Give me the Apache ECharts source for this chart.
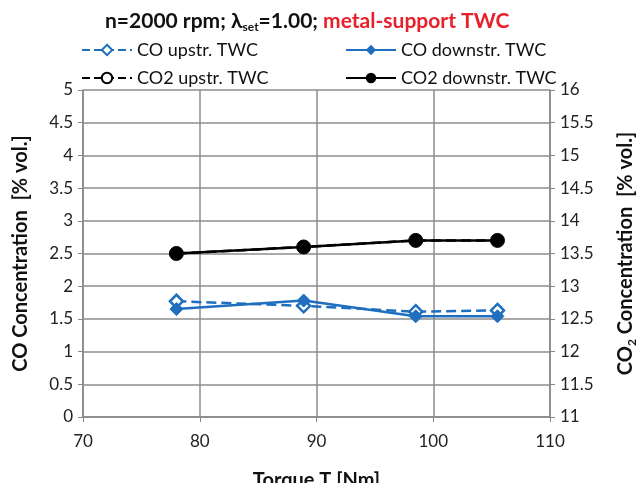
<!DOCTYPE html>
<html><head><meta charset="utf-8">
<script src="https://cdn.jsdelivr.net/npm/echarts@6/dist/echarts.min.js"></script>
<style>html,body{margin:0;padding:0;background:#fff}#c{width:638px;height:483px}</style>
</head><body><div id="c"></div>
<script>
const torque = [78.0, 88.9, 98.5, 105.5];
const coUp = [1.77, 1.70, 1.61, 1.63];
const coDown = [1.65, 1.78, 1.54, 1.54];
const co2Up = [13.5, 13.6, 13.7, 13.7];
const co2Down = [13.5, 13.6, 13.7, 13.7];
const names = ['CO upstr. TWC', 'CO downstr. TWC', 'CO2 upstr. TWC', 'CO2 downstr. TWC'];

const blue = '#1F6EBF';
const FONT = 'Lato';
const pair = (xs, ys) => xs.map((x, i) => [x, ys[i]]);

const chart = echarts.init(document.getElementById('c'));
const legendPos = [[76, 36], [340, 36], [76, 64], [340, 64]];
chart.setOption({
  animation: false,
  textStyle: { fontFamily: FONT },
  title: {
    left: 100, top: 4,
    text: '{b|n=2000 rpm; λ}{s|set}{b|=1.00; }{r|metal-support TWC}',
    textStyle: {
      rich: {
        b: { fontFamily: FONT, fontWeight: 'bold', fontSize: 21, color: '#111' },
        s: { fontFamily: FONT, fontWeight: 'bold', fontSize: 12, color: '#111', verticalAlign: 'bottom', padding: [12, 0, 0, 0] },
        r: { fontFamily: FONT, fontWeight: 'bold', fontSize: 21, color: '#E8202A' }
      }
    }
  },
  legend: names.map((n, i) => ({
    data: [n], left: legendPos[i][0], top: legendPos[i][1],
    itemWidth: 50, itemHeight: 13, itemGap: 4,
    textStyle: { fontFamily: FONT, fontSize: 18, color: '#111' }
  })),
  grid: { left: 83, right: 88, top: 90, bottom: 66, outerBoundsMode: 'none', containLabel: false },
  xAxis: {
    type: 'value', min: 70, max: 110, interval: 10,
    name: 'Torque T [Nm]', nameLocation: 'middle', nameGap: 54,
    nameTextStyle: { fontFamily: FONT, fontWeight: 'bold', fontSize: 20, color: '#111' },
    axisLine: { show: true, lineStyle: { color: '#888', width: 1.5 } },
    axisTick: { show: true, length: 5, lineStyle: { color: '#888' } },
    axisLabel: { fontSize: 17, color: '#222', margin: 16 },
    splitLine: { show: true, lineStyle: { color: '#8c8c8c', width: 1.5 } }
  },
  yAxis: [{
    type: 'value', min: 0, max: 5, interval: 0.5,
    name: 'CO Concentration  [% vol.]', nameLocation: 'middle', nameGap: 52, nameRotate: 90,
    nameTextStyle: { fontFamily: FONT, fontWeight: 'bold', fontSize: 20, color: '#111' },
    axisLine: { show: true, lineStyle: { color: '#888', width: 1.5 } },
    axisTick: { show: true, length: 5, lineStyle: { color: '#888' } },
    axisLabel: { fontSize: 17, color: '#222', margin: 10 },
    splitLine: { show: true, lineStyle: { color: '#8c8c8c', width: 1.5 } }
  }, {
    type: 'value', min: 11, max: 16, interval: 0.5, position: 'right',
    name: '{a|CO}{s|2}{a| Concentration  [% vol.]}', nameLocation: 'middle', nameGap: 64, nameRotate: 90,
    nameTextStyle: { rich: {
      a: { fontFamily: FONT, fontWeight: 'bold', fontSize: 20, color: '#111' },
      s: { fontFamily: FONT, fontWeight: 'bold', fontSize: 12, color: '#111', verticalAlign: 'bottom', padding: [12, 0, 0, 0] }
    } },
    axisLine: { show: true, lineStyle: { color: '#888', width: 1.5 } },
    axisTick: { show: true, length: 5, lineStyle: { color: '#888' } },
    axisLabel: { fontSize: 17, color: '#222', margin: 10 },
    splitLine: { show: false }
  }],
  series: [
    { name: names[2], type: 'line', yAxisIndex: 1, data: pair(torque, co2Up), z: 2,
      lineStyle: { color: '#000', width: 2.5, type: 'dashed' },
      itemStyle: { color: '#fff', borderColor: '#000', borderWidth: 2 },
      symbol: 'circle', symbolSize: 10 },
    { name: names[3], type: 'line', yAxisIndex: 1, data: pair(torque, co2Down), z: 3,
      lineStyle: { color: '#000', width: 2.5 },
      itemStyle: { color: '#000', borderColor: '#000' },
      symbol: 'circle', symbolSize: 14 },
    { name: names[0], type: 'line', yAxisIndex: 0, data: pair(torque, coUp), z: 4,
      lineStyle: { color: blue, width: 2.5, type: 'dashed' },
      itemStyle: { color: '#fff', borderColor: blue, borderWidth: 2.5 },
      symbol: 'diamond', symbolSize: 13 },
    { name: names[1], type: 'line', yAxisIndex: 0, data: pair(torque, coDown), z: 5,
      lineStyle: { color: blue, width: 2.5 },
      itemStyle: { color: blue, borderColor: blue },
      symbol: 'diamond', symbolSize: 13 }
  ]
});
</script></body></html>
